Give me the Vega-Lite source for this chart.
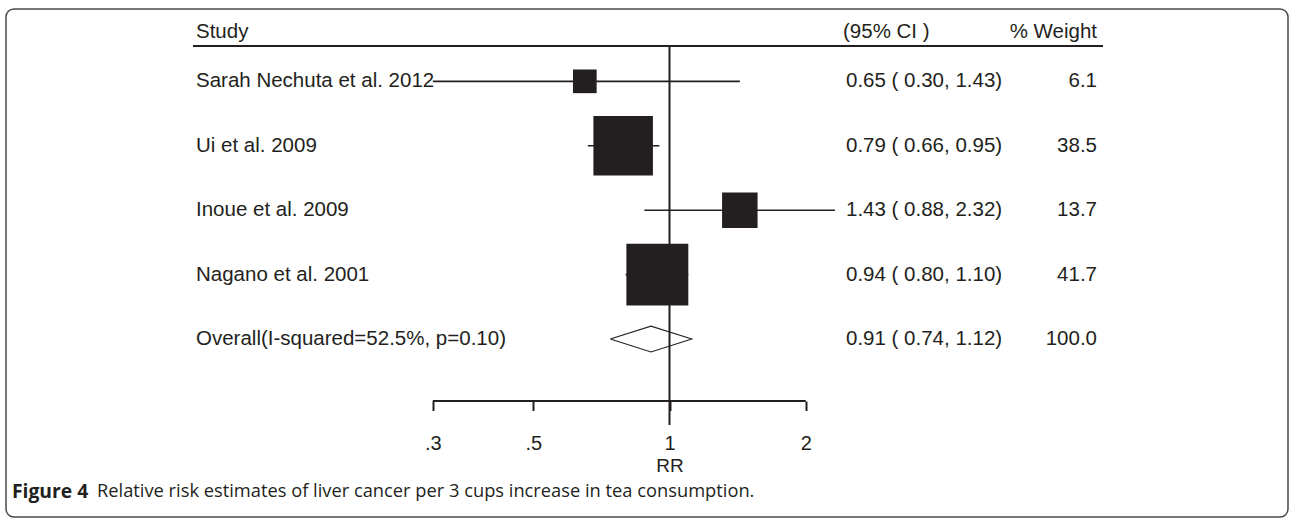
{
  "$schema": "https://vega.github.io/schema/vega-lite/v6.json",
  "width": 1282,
  "height": 508,
  "autosize": {"type": "none"},
  "padding": {"left": 6, "top": 9, "right": 1, "bottom": 1},
  "background": "white",
  "config": {
    "view": {"stroke": "#4a4a4a", "strokeWidth": 1.5, "cornerRadius": 8},
    "font": "Liberation Sans",
    "text": {"font": "Liberation Sans", "fontSize": 20.5, "color": "#231f20", "baseline": "middle"},
    "rule": {"color": "#231f20"}
  },
  "datasets": {
    "studies": [
      {"row": 1, "study": "Sarah Nechuta et al. 2012", "rr": 0.65, "lo": 0.30, "hi": 1.43, "weight": 6.1},
      {"row": 2, "study": "Ui et al. 2009", "rr": 0.79, "lo": 0.66, "hi": 0.95, "weight": 38.5},
      {"row": 3, "study": "Inoue et al. 2009", "rr": 1.43, "lo": 0.88, "hi": 2.32, "weight": 13.7},
      {"row": 4, "study": "Nagano et al. 2001", "rr": 0.94, "lo": 0.80, "hi": 1.10, "weight": 41.7},
      {"row": 5, "study": "Overall(I-squared=52.5%, p=0.10)", "rr": 0.91, "lo": 0.74, "hi": 1.12, "weight": 100.0}
    ],
    "diamond": [
      {"k": 1, "rr": 0.74, "row": 5},
      {"k": 2, "rr": 0.91, "row": 4.8},
      {"k": 3, "rr": 1.12, "row": 5},
      {"k": 4, "rr": 0.91, "row": 5.2},
      {"k": 5, "rr": 0.74, "row": 5}
    ]
  },
  "data": {"name": "studies"},
  "layer": [
    {
      "transform": [{"filter": "datum.row <= 4"}],
      "mark": {"type": "rule", "strokeWidth": 1.6},
      "encoding": {
        "x": {
          "field": "lo", "type": "quantitative",
          "scale": {"type": "log", "domain": [0.034222, 23.2424], "nice": false},
          "axis": {
            "title": "RR",
            "values": [0.3, 0.5, 1, 2],
            "labelExpr": "datum.value < 1 ? slice(format(datum.value, '.1f'), 1) : format(datum.value, 'd')",
            "offset": -116,
            "domain": false,
            "grid": false,
            "ticks": true,
            "tickSize": 9.5,
            "tickWidth": 2,
            "tickColor": "#231f20",
            "labelFont": "Liberation Sans",
            "labelFontSize": 20,
            "labelColor": "#231f20",
            "labelPadding": 22.5,
            "labelFlush": false,
            "titleFont": "Liberation Sans",
            "titleFontSize": 19,
            "titleFontWeight": "normal",
            "titleColor": "#231f20",
            "titleX": 663.5,
            "titleY": 64,
            "titleBaseline": "middle",
            "titleAnchor": null,
            "titleAlign": "center"
          }
        },
        "x2": {"field": "hi"},
        "y": {
          "field": "row", "type": "quantitative",
          "scale": {"domain": [-0.12261, 7.76191], "reverse": true, "nice": false, "zero": false},
          "axis": null
        }
      }
    },
    {
      "data": {"values": [{}]},
      "mark": {"type": "rule", "strokeWidth": 2},
      "encoding": {
        "x": {"datum": 1, "type": "quantitative"},
        "y": {"datum": 0.452, "type": "quantitative", "axis": null},
        "y2": {"datum": 6.334}
      }
    },
    {
      "data": {"values": [{}]},
      "mark": {"type": "rule", "strokeWidth": 2},
      "encoding": {
        "x": {"datum": 0.088595, "type": "quantitative"},
        "x2": {"datum": 9.0701},
        "y": {"datum": 0.452, "type": "quantitative", "axis": null}
      }
    },
    {
      "data": {"values": [{}]},
      "mark": {"type": "rule", "strokeWidth": 2},
      "encoding": {
        "x": {"datum": 0.3, "type": "quantitative"},
        "x2": {"datum": 2},
        "y": {"datum": 5.961, "type": "quantitative", "axis": null}
      }
    },
    {
      "transform": [{"filter": "datum.row <= 4"}],
      "mark": {"type": "point", "shape": "square", "filled": true, "opacity": 1, "color": "#231f20"},
      "encoding": {
        "x": {"field": "rr", "type": "quantitative"},
        "y": {"field": "row", "type": "quantitative", "axis": null},
        "size": {"field": "weight", "type": "quantitative", "scale": {"domain": [0, 100], "range": [0, 9200], "zero": true}, "legend": null}
      }
    },
    {
      "data": {"name": "diamond"},
      "mark": {"type": "line", "strokeWidth": 1.1, "color": "#231f20"},
      "encoding": {
        "x": {"field": "rr", "type": "quantitative"},
        "y": {"field": "row", "type": "quantitative", "axis": null},
        "order": {"field": "k", "type": "quantitative"}
      }
    },
    {
      "data": {"values": [{}]},
      "mark": {"type": "text", "text": "Study", "align": "left"},
      "encoding": {
        "x": {"datum": 0.089955, "type": "quantitative"},
        "y": {"datum": 0.23, "type": "quantitative", "axis": null}
      }
    },
    {
      "data": {"values": [{}]},
      "mark": {"type": "text", "text": "(95% CI )", "align": "left"},
      "encoding": {
        "x": {"datum": 2.4169, "type": "quantitative"},
        "y": {"datum": 0.23, "type": "quantitative", "axis": null}
      }
    },
    {
      "data": {"values": [{}]},
      "mark": {"type": "text", "text": "% Weight", "align": "right"},
      "encoding": {
        "x": {"datum": 8.7974, "type": "quantitative"},
        "y": {"datum": 0.23, "type": "quantitative", "axis": null}
      }
    },
    {
      "mark": {"type": "text", "align": "left"},
      "encoding": {
        "x": {"datum": 0.089955, "type": "quantitative"},
        "y": {"field": "row", "type": "quantitative", "axis": null},
        "text": {"field": "study"}
      }
    },
    {
      "transform": [
        {"calculate": "format(datum.rr, '.2f') + ' ( ' + format(datum.lo, '.2f') + ', ' + format(datum.hi, '.2f') + ')'", "as": "ci"}
      ],
      "mark": {"type": "text", "align": "left"},
      "encoding": {
        "x": {"datum": 2.4541, "type": "quantitative"},
        "y": {"field": "row", "type": "quantitative", "axis": null},
        "text": {"field": "ci"}
      }
    },
    {
      "mark": {"type": "text", "align": "right"},
      "encoding": {
        "x": {"datum": 8.7974, "type": "quantitative"},
        "y": {"field": "row", "type": "quantitative", "axis": null},
        "text": {"field": "weight", "format": ".1f"}
      }
    },
    {
      "data": {"values": [{}]},
      "mark": {"type": "text", "text": "Figure 4", "align": "left", "font": "Open Sans", "fontWeight": "bold", "fontSize": 19.3},
      "encoding": {
        "x": {"datum": 0.035283, "type": "quantitative"},
        "y": {"datum": 7.37, "type": "quantitative", "axis": null}
      }
    },
    {
      "data": {"values": [{}]},
      "mark": {"type": "text", "text": "Relative risk estimates of liver cancer per 3 cups increase in tea consumption.", "align": "left", "font": "Open Sans", "fontSize": 18.3},
      "encoding": {
        "x": {"datum": 0.054366, "type": "quantitative"},
        "y": {"datum": 7.37, "type": "quantitative", "axis": null}
      }
    }
  ]
}
